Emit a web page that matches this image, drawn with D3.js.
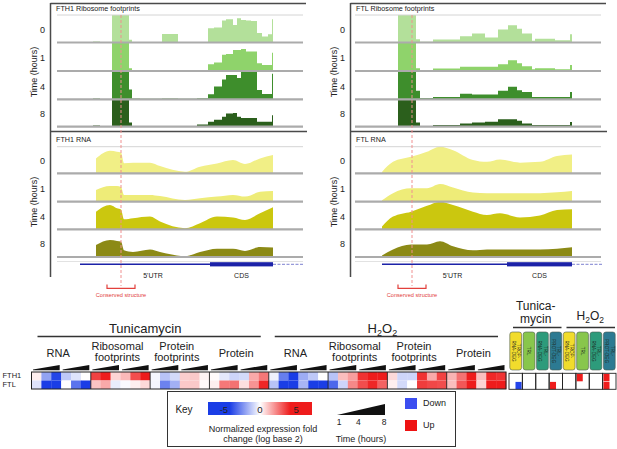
<!DOCTYPE html>
<html>
<head>
<meta charset="utf-8">
<script src="https://cdn.jsdelivr.net/npm/d3@7"></script>
<style>
body { margin: 0; background: #fff; }
svg { display: block; font-family: "Liberation Sans", Arial, sans-serif; }
</style>
</head>
<body>
<svg id="chart" width="617" height="449"></svg>
<script>
// ---- data ----
const times = ["0", "1", "4", "8"];

// ribosome footprint coverage (step), position along transcript, value = fraction of track height
const fth1RiboPos = [28, 36, 43, 55, 72, 75, 83, 105, 121, 140, 151, 157, 165, 169, 176, 180, 184, 189, 194, 200, 205, 211, 215, 216];
const fth1Ribo = [
  [0, .04, .01, 1, .1, .02, .02, .31, .02, .02, .52, .55, .8, .85, .64, .88, .82, .8, .78, .35, .22, .3, .85, 0],
  [0, .03, .01, 1, .1, .02, .02, .03, .02, .03, .24, .3, .57, .6, .74, .74, .77, .68, .68, .27, .21, .21, .64, 0],
  [0, .03, .01, 1, .35, .03, .02, .03, .02, .04, .18, .45, .7, .86, .86, .75, .97, .97, .97, .33, .19, .19, .9, 0],
  [0, .04, .01, 1, .15, .03, .03, .03, .03, .08, .18, .25, .36, .48, .5, .36, .32, .32, .32, .18, .18, .18, .42, 0]
];
const fth1RnaPos = [39, 53, 60, 64, 67, 76, 93, 103, 128, 143, 160, 176, 188, 203, 216];
const fth1Rna = [
  [.56, .85, .81, .78, .38, .4, .4, .27, .06, .25, .37, .5, .35, .56, .69],
  [.41, .55, .55, .52, .24, .24, .24, .2, .06, .12, .18, .24, .18, .35, .38],
  [.64, .88, .76, .72, .36, .4, .46, .28, .04, .22, .46, .43, .34, .58, .8],
  [.43, .61, .58, .56, .24, .18, .27, .18, .03, .18, .3, .3, .22, .36, .34]
];
const ftlRiboPos = [43, 61, 65, 78, 105, 117, 130, 143, 153, 162, 167, 177, 180, 200, 215, 217];
const ftlRibo = [
  [1, .12, .03, .11, .23, .33, .18, .47, .63, .5, .33, .06, .14, .08, .3, 0],
  [1, .1, .03, .09, .15, .15, .15, .24, .38, .27, .17, .06, .1, .06, .21, 0],
  [1, .3, .05, .08, .2, .17, .17, .3, .44, .32, .26, .08, .08, .08, .26, 0],
  [1, .15, .03, .06, .12, .15, .18, .27, .27, .22, .12, .06, .06, .06, .17, 0]
];
const ftlRnaPos = [27, 38, 56, 72, 85, 98, 118, 132, 145, 165, 185, 202, 217];
const ftlRna = [
  [.05, .43, .62, .81, 1, .87, .5, .43, .52, .4, .43, .65, .71],
  [.05, .3, .47, .47, .62, .5, .32, .3, .3, .3, .3, .33, .38],
  [.1, .46, .64, .85, 1, .88, .64, .52, .58, .43, .5, .7, .73],
  [.05, .27, .45, .45, .57, .39, .24, .27, .27, .27, .27, .3, .35]
];
// gene model: [UTR start, CDS start, CDS end, end], conserved structure [start, end, marker]
const fth1Model = [23, 153, 216, 246];
const fth1Struct = [50, 78, 64];
const ftlModel = [27, 152, 217, 247];
const ftlStruct = [43, 71, 57];

// heatmap
const heatGenes = ["FTH1", "FTL"];
const treatments = ["Tunicamycin", "H2O2"];
const assays = [["RNA"], ["Ribosomal", "footprints"], ["Protein", "footprints"], ["Protein"]];
const fth1Fold = [
  0.3, -2, -4, -1.2, -0.6, 0,
  3.5, 4.5, 0.8, 1.3, 3.3, 4.8,
  -0.2, -1.3, -0.8, 0.9, 1.0, 0.2,
  0.1, -0.5, -0.9, -0.8, 1.6, 2.5,
  -0.3, -2.8, -5, -1.8, -1.2, 0,
  -1.3, 1.2, 1.8, 3.8, 4.6, 4.7,
  0.7, -0.9, -0.9, 3.8, 1.6, 3.5,
  1.4, 2.6, 4.3, 1.2, 4, 3.8
];
const ftlFold = [
  -0.6, -5, -5, 0, -3, -5,
  1.1, 1.6, -0.4, -0.1, 0.3, 0.7,
  -0.2, -2.7, -1.7, 1.0, 1.0, 0.1,
  0.3, 2.5, 2.6, 0.6, 2.0, 4,
  -1.3, -5, -5, -1.6, -4.8, -4.5,
  -3.3, -0.9, 2.2, 3.3, 4, 2.9,
  0.3, -0.8, 0, 3.6, 3.4, 3.3,
  1.2, 3.1, 4.3, 0.8, 4.2, 4.5
];
const classes = [["TROP-", "RNA-DEG"], ["TRL"], ["TRL-", "RNA-DEG"], ["TRL-", "PROT-DEG"]];
const classColors = ["#f1dc2c", "#88c64c", "#2d9b7b", "#2c7a92"];
// class calls: box index (treatment*4 + class), gene, half, direction
const callBox = [0, 3, 5, 7, 7];
const callGene = ["FTL", "FTL", "FTH1", "FTH1", "FTL"];
const callHalf = [1, 0, 0, 0, 0];
const callDir = ["down", "up", "up", "up", "up"];
const keyTicks = [-5, 0, 5];
const keyTimes = [1, 4, 8];

// ---- drawing ----
const svg = d3.select("#chart");
svg.append("rect").attr("width", 617).attr("height", 449).attr("fill", "#fff");

const riboColors = ["#b3e09a", "#8fd36b", "#3e8e2c", "#2b5f1c"];
const rnaColors = ["#f1ef86", "#eeec78", "#cbc70f", "#8c8a16"];
const riboTop = 15, riboBase = [42.5, 71, 99.3, 126.7];
const rnaTop = 146.7, rnaBase = [173.3, 201.7, 229.3, 257];

const panels = [
  { gene: "FTH1", frameX: 50.5, x0: 57, lineEnd: 306, riboPos: fth1RiboPos, ribo: fth1Ribo, rnaPos: fth1RnaPos, rna: fth1Rna, model: fth1Model, struct: fth1Struct },
  { gene: "FTL", frameX: 350.5, x0: 355, lineEnd: 606, riboPos: ftlRiboPos, ribo: ftlRibo, rnaPos: ftlRnaPos, rna: ftlRna, model: ftlModel, struct: ftlStruct }
];

panels.forEach(p => {
  const g = svg.append("g");
  const x = d3.scaleLinear().domain([0, 246]).range([p.x0, p.x0 + 246]);

  function tracks(pos, series, colors, top, bases, curve, title, titleY, labelY) {
    bases.forEach((b, i) => {
      const h = b - (i ? bases[i - 1] : top);
      const y = d3.scaleLinear().domain([0, 1]).range([b, b - h]).clamp(true);
      const area = d3.area()
        .x((d, j) => x(pos[j]))
        .y0(b)
        .y1(d => y(d))
        .curve(curve);
      g.append("path").attr("d", area(series[i])).attr("fill", colors[i]);
    });
    g.append("line").attr("x1", x(0)).attr("x2", x(246)).attr("y1", top).attr("y2", top)
      .attr("stroke", "#d4d4d4").attr("stroke-width", 1);
    bases.forEach((b, i) => {
      g.append("line").attr("x1", x(0)).attr("x2", x(246)).attr("y1", b).attr("y2", b)
        .attr("stroke", "#ababab").attr("stroke-width", 2.2);
      g.append("text").attr("x", p.frameX - 8).attr("y", b - 12)
        .attr("text-anchor", "middle").attr("dominant-baseline", "middle")
        .attr("font-size", 9).attr("fill", "#222").text(times[i]);
    });
    g.append("text").attr("x", p.frameX + 5.5).attr("y", titleY)
      .attr("font-size", 7.2).attr("fill", "#222").text(title);
    g.append("text").attr("transform", `translate(${p.frameX - 16},${labelY}) rotate(-90)`)
      .attr("text-anchor", "middle").attr("dominant-baseline", "middle")
      .attr("font-size", 9).attr("fill", "#222").text("Time (hours)");
  }

  tracks(p.riboPos, p.ribo, riboColors, riboTop, riboBase, d3.curveStepAfter,
    p.gene + " Ribosome footprints", 11, 72);
  tracks(p.rnaPos, p.rna, rnaColors, rnaTop, rnaBase, d3.curveMonotoneX,
    p.gene + " RNA", 141.8, 202);

  // frame
  g.append("line").attr("x1", p.frameX).attr("x2", p.frameX).attr("y1", 3).attr("y2", 277)
    .attr("stroke", "#4a4a4a").attr("stroke-width", 1.5);
  g.append("line").attr("x1", p.frameX).attr("x2", p.lineEnd).attr("y1", 3.5).attr("y2", 3.5)
    .attr("stroke", "#4a4a4a").attr("stroke-width", 1.5);
  g.append("line").attr("x1", p.frameX).attr("x2", p.lineEnd + 1).attr("y1", 131.5).attr("y2", 131.5)
    .attr("stroke", "#4a4a4a").attr("stroke-width", 1.5);

  // gene model
  const m = p.model;
  g.append("line").attr("x1", x(0)).attr("x2", x(246)).attr("y1", 261.5).attr("y2", 261.5)
    .attr("stroke", "#e2e2e2").attr("stroke-width", 1);
  g.append("line").attr("x1", x(m[0])).attr("x2", x(m[1])).attr("y1", 264.3).attr("y2", 264.3)
    .attr("stroke", "#1c22a8").attr("stroke-width", 1.6);
  g.append("rect").attr("x", x(m[1])).attr("width", x(m[2]) - x(m[1])).attr("y", 262.2).attr("height", 4.2)
    .attr("fill", "#1c22a8");
  g.append("line").attr("x1", x(m[2])).attr("x2", x(m[3])).attr("y1", 264.3).attr("y2", 264.3)
    .attr("stroke", "#5b60c4").attr("stroke-width", 0.8).attr("stroke-dasharray", "3,1.5");
  g.append("text").attr("x", x((m[0] + m[1]) / 2 + 8)).attr("y", 278).attr("text-anchor", "middle")
    .attr("font-size", 7).attr("fill", "#222").text("5'UTR");
  g.append("text").attr("x", x((m[1] + m[2]) / 2)).attr("y", 278).attr("text-anchor", "middle")
    .attr("font-size", 7).attr("fill", "#222").text("CDS");

  // conserved structure
  const s = p.struct;
  g.append("line").attr("x1", x(s[2])).attr("x2", x(s[2])).attr("y1", riboTop).attr("y2", 286)
    .attr("stroke", "#f09090").attr("stroke-width", 1).attr("stroke-dasharray", "3,2");
  g.append("path")
    .attr("d", `M${x(s[0])},284.5V288.3H${x(s[1])}V284.5`)
    .attr("fill", "none").attr("stroke", "#e2403c").attr("stroke-width", 1.2);
  g.append("text").attr("x", x((s[0] + s[1]) / 2)).attr("y", 296.5).attr("text-anchor", "middle")
    .attr("font-size", 5.6).attr("fill", "#e2403c").text("Conserved structure");
});

// ---- heatmap ----
const color = d3.scaleLinear().domain([-4.2, 0, 4.2]).range(["#1a3de6", "#ffffff", "#ee1c1c"]).clamp(true);
const hx = d3.scaleBand().domain(d3.range(48)).range([31.5, 506]);
const hy = d3.scaleBand().domain(heatGenes).range([372, 389]);
const bw = hx.bandwidth();
const hm = svg.append("g");

const folds = { FTH1: fth1Fold, FTL: ftlFold };
heatGenes.forEach(gn => {
  hm.selectAll(null).data(folds[gn]).enter().append("rect")
    .attr("x", (d, i) => hx(i)).attr("y", hy(gn))
    .attr("width", bw + 0.3).attr("height", hy.bandwidth())
    .attr("fill", d => color(d));
  hm.append("text").attr("x", 2.5).attr("y", hy(gn) + hy.bandwidth() / 2)
    .attr("dominant-baseline", "middle").attr("font-size", 7.5).attr("fill", "#222").text(gn);
});
hm.append("rect").attr("x", hx(0)).attr("y", 372).attr("width", 48 * bw).attr("height", 17)
  .attr("fill", "none").attr("stroke", "#222").attr("stroke-width", 1);
d3.range(1, 8).forEach(k => {
  hm.append("line").attr("x1", hx(k * 6)).attr("x2", hx(k * 6)).attr("y1", 372).attr("y2", 389)
    .attr("stroke", "#222").attr("stroke-width", 0.9);
});
// time wedges
d3.range(16).forEach(k => {
  const a = hx(k * 3) + 1.5, b = hx(k * 3 + 2) + bw - 1.5;
  hm.append("path").attr("d", `M${a},370.2L${b},370.2L${b},365L${a},369.4Z`).attr("fill", "#111");
});
// group labels and treatment headers
treatments.forEach((t, ti) => {
  const start = hx(ti * 24), end = hx(ti * 24 + 23) + bw;
  hm.append("line").attr("x1", start + 6).attr("x2", end - 8).attr("y1", 336.5).attr("y2", 336.5)
    .attr("stroke", "#333").attr("stroke-width", 1.3);
  const tt = hm.append("text").attr("x", (start + end) / 2 - 5).attr("y", 332.5)
    .attr("text-anchor", "middle").attr("font-size", 13).attr("fill", "#222");
  if (t === "H2O2") {
    tt.append("tspan").text("H");
    tt.append("tspan").attr("font-size", 9).attr("dy", 3).text("2");
    tt.append("tspan").attr("dy", -3).text("O");
    tt.append("tspan").attr("font-size", 9).attr("dy", 3).text("2");
  } else tt.text(t);
  assays.forEach((lines, ai) => {
    const gi = ti * 4 + ai;
    const cx = (hx(gi * 6) + hx(gi * 6 + 5) + bw) / 2 - 3;
    const txt = hm.append("text").attr("text-anchor", "middle").attr("font-size", 11).attr("fill", "#222");
    if (lines.length === 1) {
      txt.append("tspan").attr("x", cx).attr("y", 357).text(lines[0]);
    } else {
      txt.append("tspan").attr("x", cx).attr("y", 349.5).text(lines[0]);
      txt.append("tspan").attr("x", cx).attr("y", 361).text(lines[1]);
    }
  });
});

// ---- class boxes ----
const cx8 = d3.scaleBand().domain(d3.range(8)).range([509, 616]);
const cb = svg.append("g");
d3.range(8).forEach(i => {
  const cls = classes[i % 4];
  const x0 = cx8(i) + 0.8, w = cx8.bandwidth() - 1.6;
  cb.append("rect").attr("x", x0).attr("y", 332).attr("width", w).attr("height", 38)
    .attr("rx", 2.5).attr("fill", classColors[i % 4]).attr("stroke", "#4a5a50").attr("stroke-width", 0.6);
  const mx = x0 + w / 2, my = 351;
  const t = cb.append("text").attr("transform", `translate(${mx},${my}) rotate(90)`)
    .attr("text-anchor", "middle").attr("font-size", 4.6).attr("fill", "#1e2a22");
  if (cls.length === 1) t.append("tspan").attr("x", 0).attr("y", 1.6).text(cls[0]);
  else {
    t.append("tspan").attr("x", 0).attr("y", -1.2).text(cls[0]);
    t.append("tspan").attr("x", 0).attr("y", 4.2).text(cls[1]);
  }
});
const ry = d3.scaleBand().domain(heatGenes).range([373.3, 389.3]);
callBox.forEach((b, i) => {
  const hw = cx8.bandwidth() / 2;
  cb.append("rect").attr("x", cx8(b) + 0.8 + callHalf[i] * (hw - 1)).attr("y", ry(callGene[i]) + 0.6)
    .attr("width", hw - 0.6).attr("height", ry.bandwidth() - 0.6)
    .attr("fill", callDir[i] === "up" ? "#ee1c1c" : "#2444ea");
});
d3.range(8).forEach(i => {
  cb.append("rect").attr("x", cx8(i)).attr("y", 373.3).attr("width", cx8.bandwidth()).attr("height", 16)
    .attr("fill", "none").attr("stroke", "#222").attr("stroke-width", 0.9);
});
[["Tunica-", "mycin"], ["H2O2"]].forEach((lab, ti) => {
  const a = cx8(ti * 4), b = cx8(ti * 4 + 3) + cx8.bandwidth();
  cb.append("line").attr("x1", a + 4).attr("x2", b - 1).attr("y1", 327.5).attr("y2", 327.5)
    .attr("stroke", "#333").attr("stroke-width", 1.3);
  const t = cb.append("text").attr("text-anchor", "middle").attr("font-size", 12).attr("fill", "#222");
  if (ti === 0) {
    t.append("tspan").attr("x", (a + b) / 2).attr("y", 309.5).text(lab[0]);
    t.append("tspan").attr("x", (a + b) / 2).attr("y", 323).text(lab[1]);
  } else {
    t.attr("x", (a + b) / 2 + 1).attr("y", 320);
    t.append("tspan").text("H");
    t.append("tspan").attr("font-size", 8.5).attr("dy", 3).text("2");
    t.append("tspan").attr("dy", -3).text("O");
    t.append("tspan").attr("font-size", 8.5).attr("dy", 3).text("2");
  }
});

// ---- key ----
const key = svg.append("g");
key.append("rect").attr("x", 167.5).attr("y", 391.5).attr("width", 288).attr("height", 55)
  .attr("fill", "#fff").attr("stroke", "#333").attr("stroke-width", 1);
key.append("text").attr("x", 184).attr("y", 413).attr("text-anchor", "middle")
  .attr("font-size", 10).attr("fill", "#222").text("Key");
const kx = d3.scaleLinear().domain([-7.2, 7.2]).range([208, 312]);
const grad = svg.append("defs").append("linearGradient").attr("id", "kg");
d3.range(-7.2, 7.3, 0.6).forEach(v => {
  grad.append("stop").attr("offset", (kx(v) - 208) / 104).attr("stop-color", color(v));
});
key.append("rect").attr("x", 208).attr("y", 402).attr("width", 104).attr("height", 13).attr("fill", "url(#kg)");
keyTicks.forEach(v => {
  key.append("text").attr("x", kx(v)).attr("y", 412.5).attr("text-anchor", "middle")
    .attr("font-size", 9.5).attr("fill", "#222").text(v < 0 ? "-" + Math.abs(v) : v);
});
key.append("text").attr("text-anchor", "middle").attr("font-size", 9).attr("fill", "#222")
  .selectAll("tspan").data(["Normalized expression fold", "change (log base 2)"]).enter().append("tspan")
  .attr("x", 263).attr("y", (d, i) => 432 + i * 9.5).text(d => d);
const tx = d3.scaleLinear().domain([1, 8]).range([339, 384]);
key.append("path").attr("d", `M${tx(1) - 2},415L${tx(8) + 1},415L${tx(8) + 1},404Z`).attr("fill", "#111");
keyTimes.forEach(v => {
  key.append("text").attr("x", tx(v)).attr("y", 424.5).attr("text-anchor", "middle")
    .attr("font-size", 8.5).attr("fill", "#222").text(v);
});
key.append("text").attr("x", 361).attr("y", 441.5).attr("text-anchor", "middle")
  .attr("font-size", 9).attr("fill", "#222").text("Time (hours)");
[["Down", "#3c4ef0", 398], ["Up", "#ee1212", 420]].forEach(([lab, c, y]) => {
  key.append("rect").attr("x", 405).attr("y", y).attr("width", 12).attr("height", 11).attr("fill", c);
  key.append("text").attr("x", 423).attr("y", y + 7.5).attr("font-size", 9).attr("fill", "#222").text(lab);
});
</script>
</body>
</html>
